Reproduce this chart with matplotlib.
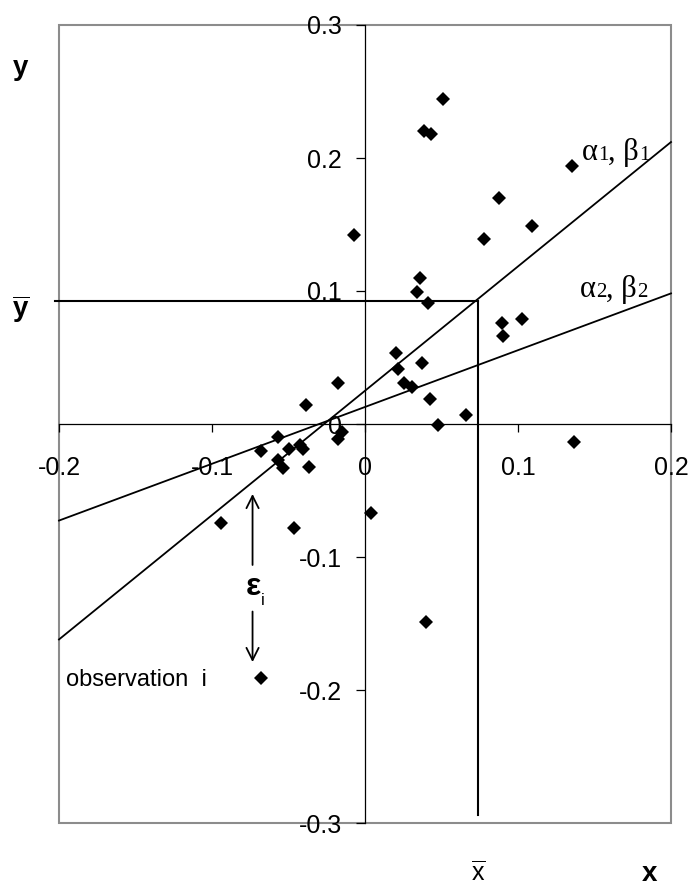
import matplotlib.pyplot as plt
from matplotlib.patches import Rectangle

x_obs = [0.0508, 0.0387, 0.0430, 0.135, 0.0873, 0.109, 0.078, -0.007, 0.0358, 0.0337,
         0.0413, 0.0895, 0.1025, 0.0905, 0.0204, 0.0217, 0.0373, 0.0258, 0.0308, 0.0423,
         0.066, 0.0478, 0.1366, 0.0037, -0.0174, -0.0386, -0.0567, -0.068, -0.050, -0.0423,
         -0.0408, -0.0567, -0.0534, -0.0369, -0.0152, -0.0174, -0.094, -0.0463, -0.068, 0.040]
y_obs = [0.244, 0.220, 0.218, 0.194, 0.170, 0.149, 0.139, 0.142, 0.110, 0.0995,
         0.0907, 0.0762, 0.0787, 0.0664, 0.0536, 0.0411, 0.0456, 0.0306, 0.0276, 0.0186,
         0.0068, -0.0008, -0.0133, -0.0672, 0.0306, 0.0143, -0.0095, -0.0203, -0.0188, -0.0158,
         -0.019, -0.0271, -0.0333, -0.0326, -0.0058, -0.0115, -0.0747, -0.078, -0.1907, -0.1486]

# two fitted lines y = a + b*x
alpha1, beta1 = 0.025, 0.935
alpha2, beta2 = 0.0128, 0.427
x_bar, y_bar = 0.0738, 0.0925
x_ticks = [-0.2, -0.1, 0, 0.1, 0.2]
y_ticks = [-0.3, -0.2, -0.1, 0, 0.1, 0.2, 0.3]

plt.rcParams['font.family'] = ['Liberation Sans', 'DejaVu Sans']
plt.rcParams['mathtext.fontset'] = 'custom'
plt.rcParams['mathtext.rm'] = 'Liberation Sans'
plt.rcParams['mathtext.bf'] = 'Liberation Sans:bold'

W, H = 691, 888
def fxy(px, py):
    # pixel position -> figure fraction
    return px / W, 1 - py / H

fig = plt.figure(figsize=(W / 100, H / 100), dpi=100)
ax = fig.add_axes([59 / W, 1 - 823 / H, 612 / W, 798 / H])
ax.set_xlim(-0.2, 0.2)
ax.set_ylim(-0.3, 0.3)

def chain_text(px, py, pieces, **kw):
    # pieces: (text, size) set one after the other on the same baseline
    renderer = fig.canvas.get_renderer()
    x0, y0 = fxy(px, py)
    for s, size in pieces:
        t = fig.text(x0, y0, s, fontsize=size, va='baseline', **kw)
        x0 = t.get_window_extent(renderer).x1 / W

# gray frame, axes through the origin
ax.add_patch(Rectangle((0, 0), 1, 1, transform=ax.transAxes, fill=False,
                       ec='#8c8c8c', lw=1.5, clip_on=False, zorder=1))
for side in ['top', 'right']:
    ax.spines[side].set_visible(False)
ax.spines['left'].set_position(('data', 0))
ax.spines['bottom'].set_position(('data', 0))
for side in ['left', 'bottom']:
    ax.spines[side].set_linewidth(0.9)
ax.set_xticks(x_ticks)
ax.set_yticks(y_ticks)
ax.set_xticklabels(['%g' % v for v in x_ticks])
ax.set_yticklabels(['%g' % v for v in y_ticks])
ax.tick_params(axis='x', direction='out', length=6, width=0.9, pad=17, labelsize=18)
ax.tick_params(axis='y', direction='out', length=6.5, width=0.9, pad=10, labelsize=18)

xs = [-0.2, 0.2]
ax.plot(xs, [alpha1 + beta1 * v for v in xs], color='black', lw=1.3, clip_on=False)
ax.plot(xs, [alpha2 + beta2 * v for v in xs], color='black', lw=1.3, clip_on=False)
ax.plot([-0.2026, x_bar], [y_bar, y_bar], color='black', lw=1.5, clip_on=False)
ax.plot([x_bar, x_bar], [y_bar, -0.294], color='black', lw=1.5)

ax.plot(x_obs, y_obs, 'D', color='black', ms=7.5, mew=0, zorder=5)

# residual arrows around observation i
arrow = dict(arrowstyle='->', lw=1.3, color='black', mutation_scale=22, shrinkA=0, shrinkB=0)
ax.annotate('', xy=(-0.0735, -0.0526), xytext=(-0.0735, -0.106), arrowprops=arrow)
ax.annotate('', xy=(-0.0735, -0.179), xytext=(-0.0735, -0.141), arrowprops=arrow)

fig.text(*fxy(253, 595), 'ε', fontsize=23, fontweight='bold', ha='center', va='baseline')
fig.text(*fxy(261, 605), 'i', fontsize=12, ha='left', va='baseline')
fig.text(*fxy(66, 686), 'observation  i', fontsize=17, ha='left', va='baseline')

# line labels, digits set smaller on the baseline
serif = dict(family=['Liberation Serif', 'DejaVu Serif'])
chain_text(582, 160, [('α', 22), ('1', 15), (', β', 22), ('1', 15)], **serif)
chain_text(580, 297, [('α', 22), ('2', 15), (', β', 22), ('2', 15)], **serif)

# axis names
fig.text(*fxy(21, 75), 'y', fontsize=20, fontweight='bold', ha='center', va='baseline')
fig.text(*fxy(21, 317), r'$\overline{\mathbf{y}}$', fontsize=20, ha='center', va='baseline')
fig.text(*fxy(478, 881), r'$\overline{\mathrm{x}}$', fontsize=18, ha='center', va='baseline')
fig.text(*fxy(650, 881), 'x', fontsize=20, fontweight='bold', ha='center', va='baseline')

fig.savefig('out.png', dpi=100)
